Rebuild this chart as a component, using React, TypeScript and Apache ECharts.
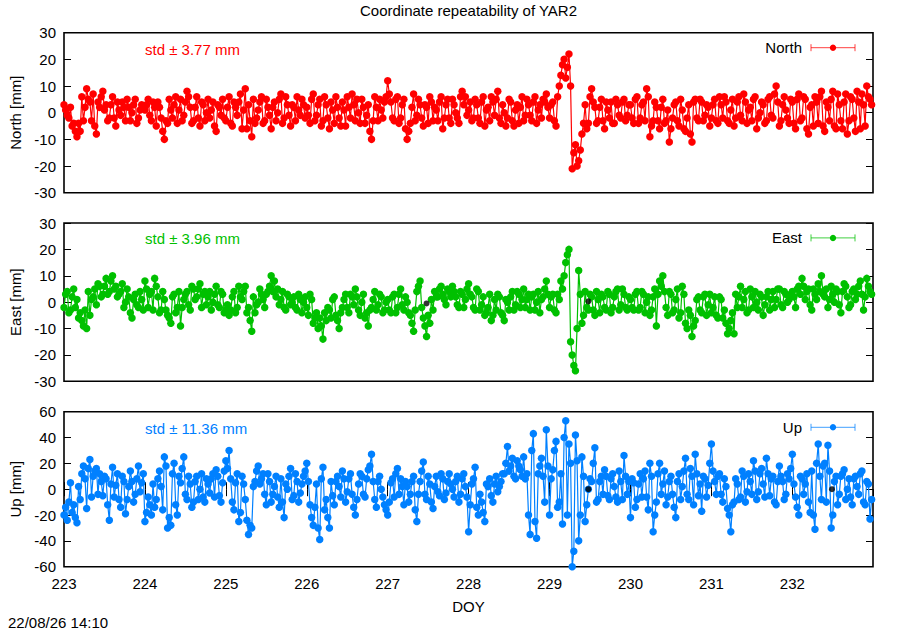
import React, { useEffect, useRef } from "react";
import * as echarts from "echarts";

const TITLE = "Coordinate repeatability of YAR2";
const STAMP = "22/08/26 14:10";
const X_NAME = "DOY";
const DOY_MIN = 223;
const DOY_MAX = 232.997;
// epochs of the A-samples are EPOCH_START + i*EPOCH_STEP, B-samples half a step later
const EPOCH_START = 223;
const EPOCH_STEP = 0.04;

const PANEL_NAMES = ["North", "East", "Up"];
const Y_NAMES = ["North [mm]", "East [mm]", "Up [mm]"];
const STD_VALUES = [3.77, 3.96, 11.36];
const Y_LIMITS = [30, 30, 60];
const Y_STEPS = [10, 10, 20];
const COLORS = ["#ff0000", "#00c000", "#0080ff"];

// one row per day, 25 epochs a day (A samples)
const NORTH_A = [
  3, -1, 2, -4, -9, -7, -3, 9, 4, 7, -8, 2, 8, 3, -2, 6, -5, 1, 4, -3, 2, 0, 5, -2, 3,
  1, 5, -3, 2, 4, -2, -10, -4, 1, 3, -4, 5, -1, 8, 2, -3, 6, -5, 3, 0, -2, 4, -7, 2, 5,
  -3, 6, -5, 2, 4, -6, 9, 3, -9, -4, 1, 6, -3, 2, -6, 4, 0, 7, -2, 3, -5, 2, 6, -1, 3,
  2, -4, 7, -1, 5, -3, 3, -6, 1, 6, -2, 4, -5, 2, 7, -3, 0, 5, -4, 3, -10, 6, -3, 1, 4,
  12, 4, -3, 6, -2, 5, -10, -4, 7, -1, 3, -5, 2, 6, -3, 1, 4, -6, 3, -2, 5, 0, -4, 8, 6,
  1, -3, 5, -2, 4, -5, 2, 6, -1, 8, -4, 0, -2, 4, -5, 3, 2, -3, 5, -1, 4, -4, 3, 5, 7,
  -2, 4, -5, 10, 18, 13, 22, -21, -12, -18, -8, 3, -4, 9, 2, -3, 5, -6, 1, 4, -4, 3, -2, 5, -1,
  3, -4, 6, -2, 4, 9, -9, -3, 2, -6, 5, -3, -11, -2, 4, -5, 1, -7, 3, -11, 5, -3, 4, -1, 2,
  -2, 5, -4, 3, 6, -3, 1, -5, 4, -1, 7, -4, 2, 5, -6, 0, 3, -3, 6, -2, 10, -5, 3, 1, -4,
  4, -6, 7, -2, 5, -8, 3, 6, -4, 8, -7, 2, 5, -5, 7, -3, 4, -8, 6, -2, 8, -6, 3, 10, 5,
];
// B samples (half a step after each A sample)
const NORTH_B = [
  1, -2, -5, -7, -4, 6, 2, 5, -3, -5, 4, 6, 1, -3, 3, -2, 4, -1, 2, 5, -3, 3, -4, 1, 2,
  3, -1, 4, -5, 2, -7, -3, 5, -2, 6, 1, -3, 4, 6, -4, 2, -2, 4, -3, 5, 1, -5, 3, -1, -2,
  2, -4, 4, -1, 7, 1, -6, -3, 5, -2, 4, -4, 5, -1, 2, -3, 5, -4, 6, -1, 3, -3, 1, 5, -2,
  -1, 5, -3, 3, -5, 6, -2, 4, -4, 2, -5, 1, 6, -2, 3, 5, -4, 2, -1, -7, -3, 2, 5, -2, 6,
  7, -2, 5, -4, 3, -6, -7, 2, -3, 5, -2, 3, -4, 4, 2, -3, 6, -2, 5, -4, 3, -2, 6, 3, -1,
  4, -2, 3, -4, 6, 1, -3, 4, 5, -2, 3, -5, 5, -3, 1, -4, 6, -1, 3, -3, 6, 1, -2, 4, 2,
  3, -3, 6, 14, 20, 17, 10, -15, -20, -14, -4, -6, 6, 4, -4, 2, -3, 4, -2, -4, 5, -1, 4, -3, 3,
  -2, 5, -4, 3, -3, 6, -5, 4, -3, 2, -4, 1, -6, 3, -3, 5, -6, -2, -8, 4, -2, 5, -3, 3, -5,
  3, -3, 6, -2, 4, -4, 5, -2, 6, -3, 4, 1, -3, 6, -2, 4, -4, 5, -1, 7, 4, -3, 6, -2, 5,
  -4, 5, -3, 6, -6, 2, -5, 4, 6, -5, 4, -3, 8, -6, 3, -6, 7, -3, 5, -7, 4, 7, -5, 6, 3,
];

const EAST_A = [
  -2, 4, -3, 5, 1, -4, -9, -10, -5, 2, -1, 6, 3, 9, 4, 10, 6, 3, 7, 0, 2, -6, 3, -2, 1,
  8, -2, 4, 9, 2, -3, 1, -5, -8, 3, -2, -9, 1, 4, -3, 5, 2, 7, 3, -1, 4, 0, 6, -2, 3,
  -3, -5, 2, -4, 6, 1, 6, -2, -11, -4, 0, 3, -2, 4, 10, 8, 5, 1, -2, 3, -1, 2, -3, 1, 0,
  -2, 3, -8, -4, -6, -14, -7, -3, 1, -5, -10, -2, 3, -4, 2, 5, -3, 0, -6, -9, -2, 4, -1, 2, -3,
  1, -4, 3, -2, 5, -3, 0, -5, -11, 4, 8, -6, -13, -8, -3, 2, 5, 3, -1, 4, 6, 2, -2, 3, 1,
  7, 2, -3, 4, -1, -5, -2, -7, 1, 3, -4, -7, 0, 2, -3, 4, -2, 5, 1, -3, 3, 0, -4, 2, 8,
  -2, 3, -4, 1, 5, 15, 20, -20, -26, 12, -8, 4, -3, 2, -5, 1, 3, -2, 4, -4, 2, 5, -1, 3, -3,
  1, -3, 4, -2, 3, 0, -5, 2, -9, 8, 10, -2, 4, -4, 1, -6, 6, -8, -3, -13, -7, 2, -4, 3, -1,
  -4, 2, -6, 1, -3, -12, -7, -12, -2, 6, 1, -4, 5, -2, 0, 3, -5, 2, -3, 4, 1, 5, -2, 3, 1,
  4, -2, 6, 9, 1, 5, -3, 3, 7, 10, 2, -2, 6, 0, 4, -4, 7, 2, -1, 5, 3, 8, -3, 9, 4,
];
const EAST_B = [
  3, -4, 2, -2, -6, -7, -3, 4, 1, 5, 7, 2, 6, 3, 8, 5, 2, 4, -2, 5, -4, 1, -1, 4, -3,
  5, 3, -3, 6, -4, 4, -3, -6, 2, -4, 4, -2, 3, -1, 6, 1, 5, -2, 4, 2, -3, 3, -1, 4, -4,
  -1, -3, 4, -2, 2, 4, -4, -7, 2, -1, 5, 1, 3, 6, 4, 2, -1, 4, -3, 2, 0, -2, 3, -4, 2,
  -5, 1, -6, -10, -9, -4, -2, -6, 2, -7, -4, 1, -2, 3, -1, 2, -5, 3, -4, -3, 1, -3, 3, -4, 0,
  -3, 2, -4, 3, -1, 2, -4, -8, -3, 6, -2, -9, -5, 1, 4, 2, 6, 1, 5, 2, 4, -1, 4, -2, 5,
  3, -2, 5, -3, 2, -4, 3, -5, -3, 2, -5, 1, -3, 4, -1, 3, 1, -2, 3, 2, -3, 4, 1, 5, 3,
  2, -3, 3, 8, 10, 18, -15, -24, -10, 3, -5, -2, 3, -3, 4, -4, 2, -3, 3, -2, 4, -3, 5, -2, 2,
  -2, 3, -3, 4, -4, 2, -3, 5, 3, 6, 4, -5, 3, -3, 5, -4, 3, -10, -5, -9, 1, -3, 2, -5, 3,
  -2, -5, 2, -6, -8, -10, -4, 3, 2, -2, 4, -3, 2, 4, -3, 2, -1, 4, 1, -2, 5, -1, 4, 0, 3,
  2, 5, 3, 6, 4, -1, 5, 1, 4, 3, 5, 1, 3, 5, -1, 4, 6, -2, 4, 1, 6, 3, 2, 6, 3,
];

const UP_A = [
  -20, -24, 5, -12, -26, -8, 18, -15, 23, 10, 16, 12, -5, 8, -24, 17, 3, -8, 10, -19, 2, 6, -4, 18, 5,
  -25, -6, -20, -14, 8, 2, 25, -30, -28, 20, -20, 5, 25, -8, 4, -10, 10, 0, -6, 8, -3, 12, 15, -5, 5,
  22, 30, -10, 5, -25, 10, -8, -35, -30, 6, 18, 8, -4, 12, -10, 2, -6, 8, -22, 0, 16, -5, 6, -3, 10,
  20, -12, -28, 4, -39, 17, -8, -30, -5, 6, 2, 14, -10, 8, -4, -20, 4, 10, -6, 15, 27, -8, 6, 0, -12,
  -20, 5, -6, 16, 8, -12, 2, -4, 10, -25, 6, 21, -8, 4, -15, 10, -5, 8, -3, 12, 0, 6, -10, 8, 2,
  -33, 4, 17, -20, -10, -25, 2, -5, 4, -2, 6, 12, 33, 18, 10, 22, 15, 25, 12, -35, 43, -38, 18, 10, 46,
  -20, 15, 37, -10, -27, 53, 35, -60, 42, -40, 25, -25, 0, 6, 32, -8, 10, 15, -5, 8, 2, -10, 6, 26, -4,
  -22, 5, -8, 12, 8, -6, 20, -33, -10, 20, 4, -12, 6, -4, -22, 12, 2, 24, -8, 10, 27, -5, -17, 8, 3,
  35, 6, 10, -4, 8, -15, -33, -10, 4, -6, 10, -2, 6, 22, -8, 12, 4, 24, -5, 10, -12, 18, 6, -4, 8,
  27, -6, -20, 8, 4, -10, 14, -31, 35, -8, 20, 34, -30, 6, -12, 10, 15, 0, -6, 8, 2, 12, -10, 6, -23,
];
const UP_B = [
  -14, -10, -18, -22, 2, 12, 8, 16, -6, 14, -4, 6, 10, -12, 4, -6, 12, -14, 6, -8, 14, -10, 8, -2, 12,
  -18, -12, 4, -8, 14, -16, 18, -22, 12, -12, 10, 16, -4, 10, -14, 6, -8, 12, -10, 4, 8, -6, 10, -10, 14,
  16, 8, -16, 12, -18, 4, -24, -28, 2, 14, 4, 12, -12, 6, -4, 10, -14, -10, 4, 10, -8, 12, -10, 4, 14,
  6, -22, -14, -30, 8, -16, -22, 6, -12, 10, -6, 8, -2, 12, -14, -8, 12, -4, 8, 18, 6, -14, 10, -6, -16,
  -10, 8, 12, -4, 2, 6, -10, 6, -16, -4, 14, -4, 10, -10, 2, -2, 12, -8, 6, 4, -6, 10, -4, 12, -6,
  -12, 8, -14, -4, -18, 4, 8, -10, 10, 2, 12, 20, 14, 24, 8, 18, 10, 8, -20, 30, -25, 12, 24, -10, 18,
  8, 30, -14, 12, 40, -20, 20, -48, 22, -20, 10, -12, 8, 20, -10, 6, -4, 10, -8, 12, -6, 14, -8, 10, 6,
  8, -14, 4, -6, 14, -16, 10, -20, 12, -4, 14, -6, 10, -14, 6, -8, 14, -4, 16, -12, 12, 4, 10, -6, 20,
  14, -4, 12, -10, 2, -20, -12, 8, -8, 14, -10, 12, -4, 14, -2, 16, -6, 12, 8, -10, 6, 10, -8, 12, 16,
  4, -14, 10, -4, 12, -18, -20, 20, 10, 18, -10, 14, -20, 10, -4, 12, -8, 8, -12, 10, -4, 14, -12, 4, -8,
];

// isolated black points
const DOT_EAST_DOY = [227.48, 229.48];
const DOT_EAST_VAL = [-0.5, 0.3];
const DOT_UP_DOY = [229.48, 232.49];
const DOT_UP_VAL = [0.0, 0.0];

const FONT = "'Liberation Sans', Arial, Helvetica, sans-serif";

const GRIDS = [
  { top: 32.7, height: 160 },
  { top: 223, height: 158.3 },
  { top: 411.7, height: 155 },
];
const LEFT = 64;
const RIGHT_EDGE = 873;

function merge(a: number[], b: number[]) {
  const out: number[][] = [];
  a.forEach((v, i) => {
    const t = EPOCH_START + i * EPOCH_STEP;
    out.push([t, v]);
    out.push([t + EPOCH_STEP / 2, b[i]]);
  });
  return out;
}

function pairs(xs: number[], ys: number[]) {
  return ys.map((v, i) => [xs[i], v]);
}

export default function App() {
  const ref = useRef<HTMLDivElement>(null);

  useEffect(() => {
    if (!ref.current) return;
    const chart = echarts.init(ref.current, undefined, { renderer: "svg" });

    const seriesData = [merge(NORTH_A, NORTH_B), merge(EAST_A, EAST_B), merge(UP_A, UP_B)];
    const dots = [
      [[], []],
      [DOT_EAST_DOY, DOT_EAST_VAL],
      [DOT_UP_DOY, DOT_UP_VAL],
    ] as number[][][];

    const grid = GRIDS.map((g) => ({
      left: LEFT,
      width: RIGHT_EDGE - LEFT,
      top: g.top,
      height: g.height,
      show: true,
      borderColor: "#000",
      borderWidth: 1.6,
      backgroundColor: "transparent",
      containLabel: false,
    }));

    const tick = { inside: true, length: 7, lineStyle: { color: "#000", width: 1 } };
    const label = { color: "#000", fontSize: 15, fontFamily: FONT };

    const xAxis: any[] = [0, 1].map((gi) => ({
      gridIndex: gi,
      type: "value",
      min: DOY_MIN,
      max: DOY_MAX,
      show: false,
    }));
    xAxis.push({
      gridIndex: 2,
      type: "value",
      min: DOY_MIN,
      max: DOY_MAX,
      interval: 1,
      position: "bottom",
      axisLine: { show: false },
      axisTick: tick,
      axisLabel: { ...label, margin: 9, showMaxLabel: false },
      splitLine: { show: false },
    });
    xAxis.push({
      gridIndex: 2,
      type: "value",
      min: DOY_MIN,
      max: DOY_MAX,
      interval: 1,
      position: "top",
      axisLine: { show: false },
      axisTick: tick,
      axisLabel: { show: false },
      splitLine: { show: false },
    });

    const yAxis: any[] = [];
    [0, 1, 2].forEach((gi) => {
      const base = {
        gridIndex: gi,
        type: "value",
        min: -Y_LIMITS[gi],
        max: Y_LIMITS[gi],
        interval: Y_STEPS[gi],
        axisLine: { show: false },
        axisTick: tick,
        splitLine: { show: false },
      };
      yAxis.push({ ...base, position: "left", axisLabel: { ...label, margin: 8 } });
      yAxis.push({ ...base, position: "right", axisLabel: { show: false } });
    });

    const series: any[] = [];
    [0, 1, 2].forEach((gi) => {
      series.push({
        type: "line",
        name: PANEL_NAMES[gi],
        xAxisIndex: gi,
        yAxisIndex: gi * 2,
        data: seriesData[gi],
        symbol: "circle",
        symbolSize: 7.5,
        itemStyle: { color: COLORS[gi] },
        lineStyle: { color: COLORS[gi], width: 1.2 },
        z: 2,
        silent: true,
      });
      if (dots[gi][0].length) {
        series.push({
          type: "scatter",
          xAxisIndex: gi,
          yAxisIndex: gi * 2,
          data: pairs(dots[gi][0], dots[gi][1]),
          symbol: "circle",
          symbolSize: 6,
          itemStyle: { color: "#000" },
          z: 3,
          silent: true,
        });
      }
    });

    const plotCenterX = (LEFT + RIGHT_EDGE) / 2;
    const graphic: any[] = [
      {
        type: "text",
        x: plotCenterX,
        y: 10.5,
        style: { text: TITLE, fill: "#000", fontSize: 15, fontFamily: FONT, textAlign: "center", textVerticalAlign: "middle" },
      },
      {
        type: "text",
        x: plotCenterX,
        y: 606,
        style: { text: X_NAME, fill: "#000", fontSize: 15, fontFamily: FONT, textAlign: "center", textVerticalAlign: "middle" },
      },
      {
        type: "text",
        x: 8,
        y: 622.5,
        style: { text: STAMP, fill: "#000", fontSize: 15, fontFamily: FONT, textAlign: "left", textVerticalAlign: "middle" },
      },
    ];
    const stdY = [49.3, 238.7, 428.3];
    const legendY = [47.7, 237.9, 427.3];
    [0, 1, 2].forEach((gi) => {
      const g = GRIDS[gi];
      graphic.push({
        type: "text",
        x: 15,
        y: g.top + g.height / 2,
        rotation: Math.PI / 2,
        style: { text: Y_NAMES[gi], fill: "#000", fontSize: 15, fontFamily: FONT, textAlign: "center", textVerticalAlign: "middle" },
      });
      graphic.push({
        type: "text",
        x: 145,
        y: stdY[gi],
        style: {
          text: "std \u00b1 " + STD_VALUES[gi].toFixed(2) + " mm",
          fill: COLORS[gi],
          fontSize: 15,
          fontFamily: FONT,
          textAlign: "left",
          textVerticalAlign: "middle",
        },
      });
      graphic.push({
        type: "text",
        x: 802,
        y: legendY[gi],
        style: { text: PANEL_NAMES[gi], fill: "#000", fontSize: 15, fontFamily: FONT, textAlign: "right", textVerticalAlign: "middle" },
      });
      const ly = legendY[gi];
      const lc = COLORS[gi];
      graphic.push({ type: "line", shape: { x1: 811, y1: ly, x2: 855, y2: ly }, style: { stroke: lc, lineWidth: 1, opacity: 0.75 } });
      graphic.push({ type: "line", shape: { x1: 811, y1: ly - 3.5, x2: 811, y2: ly + 3.5 }, style: { stroke: lc, lineWidth: 1, opacity: 0.75 } });
      graphic.push({ type: "line", shape: { x1: 855, y1: ly - 3.5, x2: 855, y2: ly + 3.5 }, style: { stroke: lc, lineWidth: 1, opacity: 0.75 } });
      graphic.push({ type: "circle", shape: { cx: 833, cy: ly, r: 3.2 }, style: { fill: lc } });
    });

    chart.setOption({
      animation: false,
      backgroundColor: "#fff",
      grid,
      xAxis,
      yAxis,
      series,
      graphic,
    });

    return () => {
      chart.dispose();
    };
  }, []);

  return (
    <div
      ref={ref}
      style={{ position: "absolute", left: 0, top: 0, width: 900, height: 630 }}
    />
  );
}
